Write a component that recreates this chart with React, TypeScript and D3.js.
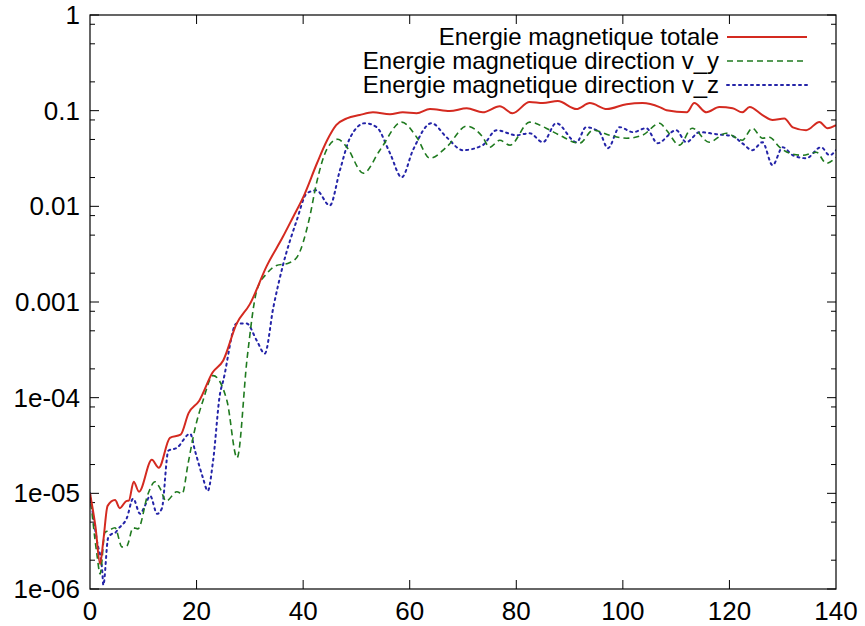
import { useEffect, useRef } from "react";
import * as d3 from "d3";

// Energie magnetique totale
const totalT = [0, 1, 1.9, 2.5, 3.3, 4.7, 5.6, 6.8, 7.3, 8.2, 9.2, 11.6, 12.9, 15, 17, 18.5, 20.5, 23, 25, 27.5, 30, 33.2, 36.2, 38.1, 40, 42.6, 44.5, 46.2, 48.2, 50.6, 53.1, 56.3, 58.7, 61.3, 63.8, 67.5, 70.7, 73.7, 76.9, 79.3, 82.5, 85, 87.8, 91.3, 93.8, 97, 100.7, 103.7, 106.9, 108.2, 112, 113.4, 115.7, 118.1, 120.6, 122.4, 123.8, 126.2, 128.1, 130.3, 131.9, 134.4, 136.9, 138.4, 140];
const totalE = [1.0e-5, 4.6e-6, 1.83e-6, 3.2e-6, 7.4e-6, 8.5e-6, 7.0e-6, 8.3e-6, 8.4e-6, 1.32e-5, 1.04e-5, 2.24e-5, 1.85e-5, 3.8e-5, 4.1e-5, 6.9e-5, 9.3e-5, 1.83e-4, 2.45e-4, 5.9e-4, 9.5e-4, 2.4e-3, 4.8e-3, 7.7e-3, 0.0124, 0.0282, 0.049, 0.0705, 0.083, 0.09, 0.096, 0.092, 0.096, 0.094, 0.104, 0.099, 0.106, 0.096, 0.111, 0.094, 0.123, 0.12, 0.126, 0.104, 0.12, 0.104, 0.117, 0.12, 0.109, 0.101, 0.096, 0.12, 0.096, 0.109, 0.106, 0.096, 0.109, 0.09, 0.08, 0.083, 0.067, 0.0625, 0.076, 0.0656, 0.0705];

// Energie magnetique direction v_y
const vyT = [0, 1.3, 1.9, 2.8, 3.4, 4.7, 6, 6.9, 8.1, 9, 10.9, 12.2, 13.1, 14.3, 16.3, 17.3, 18.4, 19.7, 21.2, 23.1, 25.7, 27.6, 29.5, 31.3, 33.2, 35, 37.1, 38.8, 41.2, 42.5, 44.5, 46.5, 48.2, 51.3, 54.4, 58.5, 61.3, 63.8, 66.9, 70.7, 73.7, 75, 76.9, 78.8, 82.5, 85.6, 88.1, 91.9, 94.4, 97.5, 100.7, 103.7, 106.9, 108.2, 110.6, 113, 116.2, 119.4, 122.4, 124.3, 126.2, 127.5, 129.4, 131.3, 133.7, 136.3, 138.2, 140];
const vyE = [1.0e-5, 2.3e-6, 1.44e-6, 3.9e-6, 4.05e-6, 4.36e-6, 2.75e-6, 2.82e-6, 4.36e-6, 4.25e-6, 9.9e-6, 1.32e-5, 1.14e-5, 8.3e-6, 1.04e-5, 9.9e-6, 2.04e-5, 4.73e-5, 9.3e-5, 1.7e-4, 9.3e-5, 2.35e-5, 2.62e-4, 1.32e-3, 1.99e-3, 2.41e-3, 2.53e-3, 2.92e-3, 7.6e-3, 0.0174, 0.04, 0.0503, 0.0415, 0.0222, 0.0386, 0.0759, 0.0528, 0.0318, 0.0415, 0.069, 0.053, 0.0415, 0.049, 0.0436, 0.0759, 0.0656, 0.0554, 0.0457, 0.0625, 0.0554, 0.0515, 0.0554, 0.074, 0.0625, 0.0436, 0.0656, 0.0468, 0.0581, 0.0491, 0.0656, 0.0515, 0.0528, 0.0415, 0.0359, 0.0342, 0.0368, 0.0282, 0.0326];

// Energie magnetique direction v_z
const vzT = [0, 1.3, 2.3, 2.5, 3.4, 4.1, 4.7, 5.3, 6.9, 8.1, 9.4, 10.3, 11.3, 12.6, 13.5, 14.7, 16.3, 18.8, 19.7, 21.2, 22.1, 23.1, 24.4, 25, 27.5, 29.4, 31.3, 32.8, 34.4, 36.2, 38.8, 40.7, 42.5, 45, 46.9, 48.8, 51.6, 53.8, 56.3, 58.5, 60.6, 64.1, 66.9, 70, 73.7, 76.3, 80, 82.5, 85, 87.5, 91.3, 93.1, 95.6, 97.2, 99.4, 101.9, 104.4, 106.5, 110, 111.9, 114.4, 117.5, 120.6, 122.4, 124.3, 126.2, 128.1, 130, 131.9, 134.4, 137.2, 138.8, 140];
const vzE = [1.0e-5, 3.2e-6, 1.54e-6, 1.1e-6, 3.42e-6, 3.77e-6, 3.86e-6, 4.25e-6, 5.5e-6, 8.8e-6, 6.1e-6, 7.4e-6, 9.4e-6, 6.1e-6, 7.0e-6, 2.79e-5, 2.99e-5, 4.2e-5, 2.79e-5, 1.45e-5, 1.06e-5, 2.19e-5, 1.1e-4, 1.5e-4, 5.96e-4, 5.96e-4, 3.95e-4, 2.89e-4, 8.75e-4, 2.41e-3, 7.13e-3, 0.0137, 0.0147, 0.0102, 0.0238, 0.052, 0.074, 0.0672, 0.0359, 0.0201, 0.0386, 0.074, 0.0528, 0.0386, 0.0436, 0.0625, 0.0554, 0.0581, 0.0468, 0.074, 0.0468, 0.0672, 0.0596, 0.0405, 0.0672, 0.0596, 0.0656, 0.0457, 0.0625, 0.0468, 0.0596, 0.0568, 0.0541, 0.0457, 0.0386, 0.0468, 0.0269, 0.0415, 0.0342, 0.0318, 0.0415, 0.0342, 0.0386];

const xTicks = [0, 20, 40, 60, 80, 100, 120, 140];
const yTicks = [1e-6, 1e-5, 1e-4, 1e-3, 1e-2, 0.1, 1];
const yTickLabels = ["1e-06", "1e-05", "1e-04", "0.001", "0.01", "0.1", "1"];
const seriesNames = [
  "Energie magnetique totale",
  "Energie magnetique direction v_y",
  "Energie magnetique direction v_z",
];

export default function App() {
  const svgRef = useRef<SVGSVGElement>(null);

  useEffect(() => {
    const svg = d3.select(svgRef.current);
    svg.selectAll("*").remove();

    const width = 865;
    const height = 626;
    const left = 90, right = 836, top = 15, bottom = 589;
    const font = "'Liberation Sans', Arial, Helvetica, sans-serif";

    const x = d3.scaleLinear().domain([0, 140]).range([left, right]);
    const y = d3.scaleLog().domain([1e-6, 1]).range([bottom, top]);

    svg.attr("width", width).attr("height", height);
    svg.append("rect").attr("width", width).attr("height", height).attr("fill", "#fff");

    const clip = svg.append("clipPath").attr("id", "plotclip");
    clip.append("rect").attr("x", left).attr("y", top).attr("width", right - left).attr("height", bottom - top);

    // ticks
    const tg = svg.append("g").attr("stroke", "#000").attr("stroke-width", 1);
    xTicks.forEach((t) => {
      if (t === 0 || t === 140) return;
      tg.append("line").attr("x1", x(t)).attr("x2", x(t)).attr("y1", bottom).attr("y2", bottom - 9);
      tg.append("line").attr("x1", x(t)).attr("x2", x(t)).attr("y1", top).attr("y2", top + 9);
    });
    yTicks.forEach((t) => {
      tg.append("line").attr("x1", left).attr("x2", left + 9).attr("y1", y(t)).attr("y2", y(t));
      tg.append("line").attr("x1", right).attr("x2", right - 9).attr("y1", y(t)).attr("y2", y(t));
    });
    // gnuplot minor ticks at 2, 5, 8 in each decade
    const minor: number[] = [];
    for (let e = -6; e < 0; e++) [2, 5, 8].forEach((m) => minor.push(m * Math.pow(10, e)));
    minor.forEach((t) => {
      tg.append("line").attr("x1", left).attr("x2", left + 5).attr("y1", y(t)).attr("y2", y(t));
      tg.append("line").attr("x1", right).attr("x2", right - 5).attr("y1", y(t)).attr("y2", y(t));
    });

    // tick labels
    svg.append("g")
      .selectAll("text")
      .data(xTicks)
      .join("text")
      .attr("x", (d) => x(d))
      .attr("y", 620)
      .attr("text-anchor", "middle")
      .style("font-family", font)
      .attr("font-size", 26)
      .text((d) => d);

    svg.append("g")
      .selectAll("text")
      .data(yTicks)
      .join("text")
      .attr("x", 80)
      .attr("y", (d) => y(d))
      .attr("dy", "0.35em")
      .attr("text-anchor", "end")
      .style("font-family", font)
      .attr("font-size", 26)
      .text((d, i) => yTickLabels[i]);

    // curves
    const styles = [
      { color: "#d42a20", dash: null, width: 2 },
      { color: "#1f7a1f", dash: "6,4", width: 1.6 },
      { color: "#2424a8", dash: "2,4", width: 2 },
    ];
    const series = [
      totalT.map((t, i) => [t, totalE[i]]),
      vyT.map((t, i) => [t, vyE[i]]),
      vzT.map((t, i) => [t, vzE[i]]),
    ];
    const line = d3
      .line<number[]>()
      .x((d) => x(d[0]))
      .y((d) => y(d[1]))
      .curve(d3.curveMonotoneX);

    const plot = svg.append("g").attr("clip-path", "url(#plotclip)");
    // draw v_z, v_y, then total on top
    [2, 1, 0].forEach((i) => {
      plot
        .append("path")
        .attr("d", line(series[i] as number[][]))
        .attr("fill", "none")
        .attr("stroke", styles[i].color)
        .attr("stroke-width", styles[i].width)
        .attr("stroke-dasharray", styles[i].dash)
        .attr("stroke-linecap", i === 2 ? "round" : "butt");
    });

    // legend
    const legend = svg.append("g");
    seriesNames.forEach((name, i) => {
      const ly = 37 + i * 24;
      legend
        .append("text")
        .attr("x", 719)
        .attr("y", ly)
        .attr("dy", "0.35em")
        .attr("text-anchor", "end")
        .style("font-family", font)
        .attr("font-size", 24)
        .text(name);
      legend
        .append("line")
        .attr("x1", 727)
        .attr("x2", 807)
        .attr("y1", ly)
        .attr("y2", ly)
        .attr("stroke", styles[i].color)
        .attr("stroke-width", styles[i].width)
        .attr("stroke-dasharray", styles[i].dash)
        .attr("stroke-linecap", i === 2 ? "round" : "butt");
    });

    // frame
    svg.append("rect")
      .attr("x", left)
      .attr("y", top)
      .attr("width", right - left)
      .attr("height", bottom - top)
      .attr("fill", "none")
      .attr("stroke", "#000")
      .attr("stroke-width", 1.2);
  }, []);

  return <svg ref={svgRef} style={{ position: "absolute", left: 0, top: 0 }} />;
}
